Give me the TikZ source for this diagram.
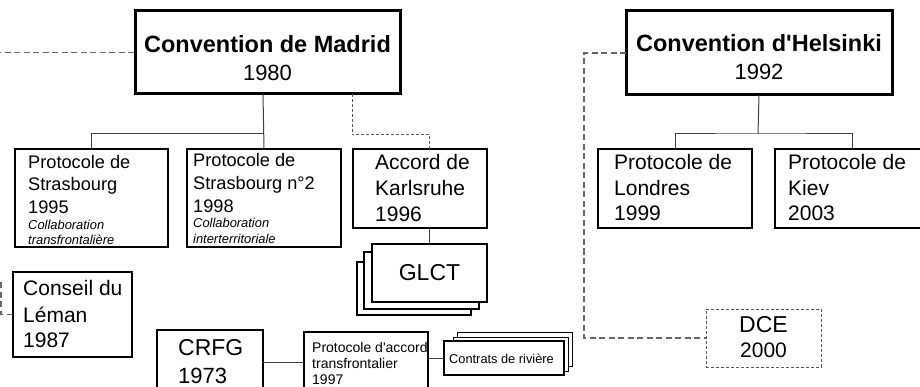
\documentclass[tikz,border=0pt]{standalone}
\usepackage{fontspec}
\setmainfont{Liberation Sans}[Ligatures=TeXOff]
\begin{document}
\begin{tikzpicture}[x=1pt,y=-1pt,
  bx/.style={draw=black, line width=#1, fill=white, inner sep=0pt, outer sep=0pt, anchor=north west},
  tx/.style={inner sep=0pt, anchor=base west},
  tc/.style={inner sep=0pt, anchor=base},
  fbig/.style={font=\fontsize{23.5}{26}\selectfont\bfseries},
  fyr/.style={font=\fontsize{22}{24}\selectfont},
  fmid/.style={font=\fontsize{21}{24}\selectfont},
  fsm/.style={font=\fontsize{18.2}{21}\selectfont},
  fit/.style={font=\fontsize{12.9}{15}\selectfont\itshape},
  fpa/.style={font=\fontsize{14}{16}\selectfont},
  fct/.style={font=\fontsize{12.8}{15}\selectfont},
  conn/.style={draw=black!75, line width=1pt},
  dlong/.style={draw=black!60, line width=1.2pt, dash pattern=on 6pt off 3.5pt},
  dshort/.style={draw=black!65, line width=1pt, dash pattern=on 3pt off 2pt},
]
\useasboundingbox (0,0) rectangle (920,387);
\clip (0,0) rectangle (920,387);

% coordinates for free ends / bends
\coordinate (leftend) at (-5,52.5);
\coordinate (mj) at (263,134);
\coordinate (mk) at (352,135);
\coordinate (hj) at (758,134);
\coordinate (hd) at (584,0);
\coordinate (lt) at (1,282);

% ---- main boxes
\node[bx=3pt, minimum width=265, minimum height=83] (madrid) at (135,11) {};
\node[fbig, tc] (madridT) at (267.5,53) {Convention de Madrid};
\node[fyr, tc] (madridY) at (267.5,81) {1980};

\node[bx=3pt, minimum width=266, minimum height=84] (helsinki) at (626,11) {};
\node[fbig, tc] (helsT) at (759,52) {Convention d'Helsinki};
\node[fyr, tc] (helsY) at (759,80) {1992};

% ---- Strasbourg
\node[bx=2pt, minimum width=153, minimum height=98] (strasA) at (15,149) {};
\node[fsm, tx] (sa1) at (28,168.5) {Protocole de};
\node[fsm, tx] (sa2) at (28,191) {Strasbourg};
\node[fsm, tx] (sa3) at (28,213.5) {1995};
\node[fit, tx] (sa4) at (28,229.5) {Collaboration};
\node[fit, tx] (sa5) at (28,244.5) {transfrontalière};

\node[bx=2pt, minimum width=154, minimum height=98] (strasB) at (187,149) {};
\node[fsm, tx] (sb1) at (193,166.5) {Protocole de};
\node[fsm, tx] (sb2) at (193,189.5) {Strasbourg n°2};
\node[fsm, tx] (sb3) at (193,212.5) {1998};
\node[fit, tx] (sb4) at (193,228) {Collaboration};
\node[fit, tx] (sb5) at (193,243.5) {interterritoriale};

% ---- Accord de Karlsruhe
\node[bx=2pt, minimum width=134, minimum height=79] (accord) at (353,149) {};
\node[fmid, tx] (ac1) at (375,169.5) {Accord de};
\node[fmid, tx] (ac2) at (375,195.5) {Karlsruhe};
\node[fmid, tx] (ac3) at (375,222) {1996};

% ---- Londres / Kiev
\node[bx=2pt, minimum width=154, minimum height=79] (londres) at (598,149) {};
\node[fmid, tx] (lo1) at (614,169.5) {Protocole de};
\node[fmid, tx] (lo2) at (614,195.5) {Londres};
\node[fmid, tx] (lo3) at (614,221) {1999};

\node[bx=2pt, minimum width=154, minimum height=79] (kiev) at (775,149) {};
\node[fmid, tx] (ki1) at (788,169.5) {Protocole de};
\node[fmid, tx] (ki2) at (788,195.5) {Kiev};
\node[fmid, tx] (ki3) at (788,221) {2003};

% ---- GLCT stack
\node[bx=1.5pt, minimum width=114, minimum height=53] (glct3) at (357,262) {};
\node[bx=1.5pt, minimum width=115, minimum height=57] (glct2) at (364,252) {};
\node[bx=2pt, minimum width=115, minimum height=58] (glct) at (372,244) {};
\node[font=\fontsize{23}{26}\selectfont, tc] (glctT) at (429.5,280) {GLCT};

% ---- Conseil du Leman
\node[bx=2pt, minimum width=119, minimum height=85] (conseil) at (13,272) {};
\node[fmid, tx] (co1) at (23,295) {Conseil du};
\node[fmid, tx] (co2) at (23,322) {Léman};
\node[fmid, tx] (co3) at (23,347) {1987};

% ---- CRFG
\node[bx=1.2pt, minimum width=106, minimum height=65] (crfg) at (157,330) {};
\node[font=\fontsize{23}{26}\selectfont, tx] (cr1) at (178,355) {CRFG};
\node[fyr, tx] (cr2) at (178,383) {1973};

% ---- Protocole d'accord
\node[bx=1.2pt, minimum width=124, minimum height=63] (proto) at (304,332) {};
\node[fpa, tx] (pa1) at (312,352) {Protocole d'accord};
\node[fpa, tx] (pa2) at (312,368) {transfrontalier};
\node[fpa, tx] (pa3) at (312,384) {1997};

% ---- Contrats de riviere stack
\node[bx=1pt, minimum width=115, minimum height=34] (contr3) at (457,332) {};
\node[bx=1pt, minimum width=115, minimum height=34] (contr2) at (453,337) {};
\node[bx=2pt, minimum width=120, minimum height=34] (contrats) at (444,341) {};
\node[fct, tx] (ctT) at (449,363.5) {Contrats de rivière};

% ---- DCE
\node[bx=1pt, dshort, minimum width=115, minimum height=58] (dce) at (706,309) {};
\node[font=\fontsize{23}{26}\selectfont, tc] (dce1) at (763.5,332) {DCE};
\node[fmid, tc] (dce2) at (763.5,357) {2000};

% ---- connectors
\draw[conn] (madrid.south -| mj) -- (strasB.north);
\draw[conn] (mj) -| (strasA.north);
\draw[dshort] (madrid.south -| mk) -- (mk) -| (accord.north -| glct.north);
\draw[conn] (accord.south -| glct.north) -- (glct.north);

\draw[conn] (helsinki.south) -- (hj);
\draw[conn] (londres.north) |- (hj) -| (kiev.north);

\draw[dlong] (leftend) -- (madrid.west);
\draw[dlong] (helsinki.west) -| (hd |- dce.west) -- (dce.west);
\draw[dlong] (lt) |- (conseil.west);

\draw[conn] (crfg.east) -- (crfg.east -| proto.west);
\draw[conn] (proto.east |- contrats.west) -- (contrats.west);
\end{tikzpicture}
\end{document}
